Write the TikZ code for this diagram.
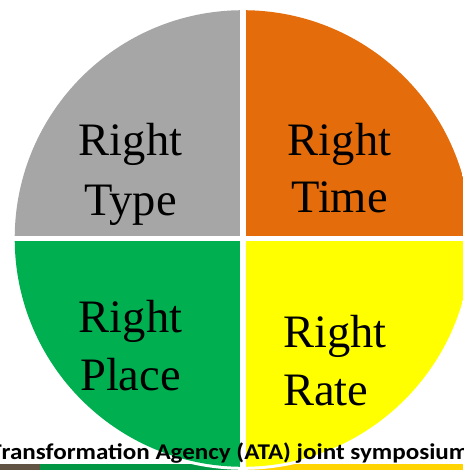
\documentclass[tikz,border=0pt]{standalone}
\usepackage{fontspec}
\usepackage{graphicx}
\setmainfont{Liberation Serif}
\newfontfamily\bannerfont{Carlito}
\usetikzlibrary{calc}
\definecolor{qgray}{RGB}{166,166,166}
\definecolor{qorange}{RGB}{228,108,10}
\definecolor{qgreen}{RGB}{0,176,80}
\definecolor{qyellow}{RGB}{255,255,0}
\definecolor{barbrown}{RGB}{98,84,68}
\definecolor{bargreen}{RGB}{0,150,68}
\definecolor{bargold}{RGB}{255,212,0}
\tikzset{
  qtext/.style={font=\fontsize{46.5}{58}\selectfont, align=center, inner sep=0pt, anchor=base, text=black},
  banner/.style={font=\bannerfont\bfseries\fontsize{22.5}{27}\selectfont, inner sep=0pt, anchor=base west, text=black}
}
\begin{document}
\begin{tikzpicture}[x=1pt,y=-1pt]
\useasboundingbox (0,0) rectangle (463,470);
\clip (0,0) rectangle (463,470);
\coordinate (c) at (243,238.5);
% strip along the bottom edge
\fill[barbrown] (0,464) rectangle (40,470);
\fill[bargreen] (40,464) rectangle (243,470);
\fill[bargold] (243,464) rectangle (463,470);
% white rim behind the disc
\fill[white] (c) circle (231.3);
% four quadrants separated by white gaps
\begin{scope}
  \clip (c) circle (228.3);
  \fill[qgray]   (0,0)   rectangle ($(c)+(-3,-2.8)$);
  \fill[qorange] (463,0) rectangle ($(c)+(3,-2.8)$);
  \fill[qgreen]  (0,470) rectangle ($(c)+(-3,2.8)$);
  \fill[qyellow] (463,470) rectangle ($(c)+(3,2.8)$);
\end{scope}
% quadrant labels (anchored on the baseline of the second line)
\node[qtext] (type)  at (130.5,215) {Right\\[2pt]Type};
\node[qtext] (time)  at (339.5,212) {Right\\[-1pt]Time};
\node[qtext] (place) at (130.5,390) {Right\\Place};
\node[qtext, align=left, anchor=base west] (rate) at (283,405) {Right\\Rate};
% caption running across the bottom, wider than the page
\node[banner] (caption) at (1.5,459) {\scalebox{1.115}[1]{\llap{T}ransformation Agency (ATA) joint symposium}};
\end{tikzpicture}
\end{document}
